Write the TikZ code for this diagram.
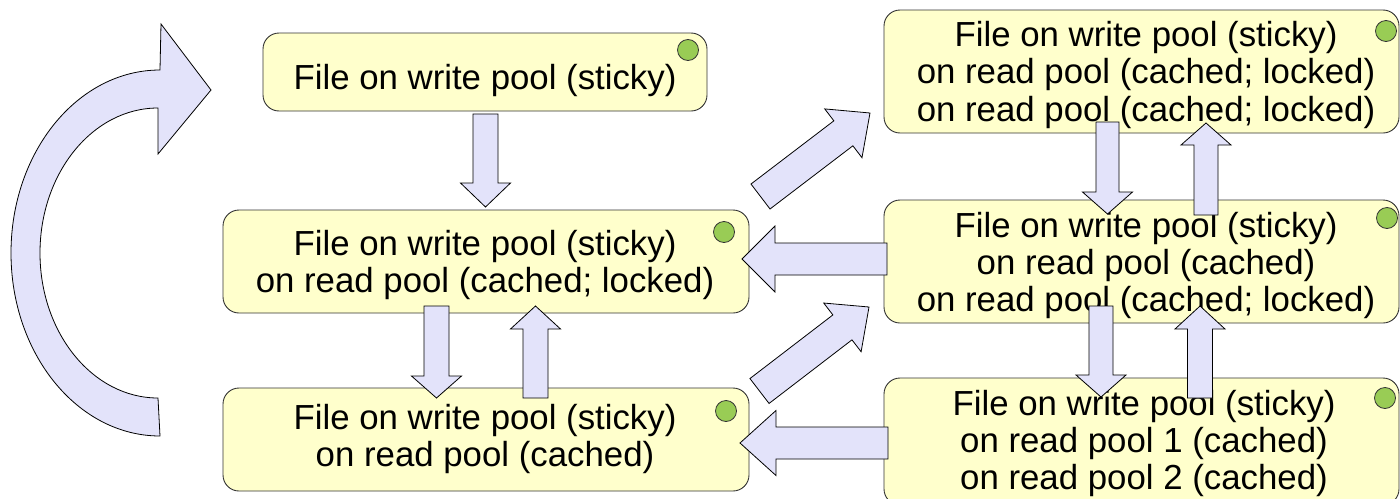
\documentclass[tikz,border=0pt]{standalone}
\usepackage{fontspec}
\setmainfont{Liberation Sans}
\usetikzlibrary{calc}
\definecolor{boxfill}{RGB}{255,255,204}
\definecolor{arrfill}{RGB}{227,227,250}
\definecolor{dotfill}{RGB}{153,204,85}
\newcommand{\blockarrow}[5]{% tail, tip, half shaft, half head, head length
  \path ($(#2)!#5!(#1)$) coordinate (ba-h);
  \draw[arrowshape] ($(#1)!#3!90:(#2)$) -- ($(ba-h)!#3!90:(#2)$) -- ($(ba-h)!#4!90:(#2)$) -- (#2)
     -- ($(ba-h)!#4!-90:(#2)$) -- ($(ba-h)!#3!-90:(#2)$) -- ($(#1)!#3!-90:(#2)$) -- cycle;
}
\tikzset{
  box/.style={draw=black!80, fill=boxfill, rounded corners=16pt, line width=0.9pt, inner sep=0pt},
  lbl/.style={align=center, inner sep=0pt, font=\fontsize{34.8pt}{37pt}\selectfont},
  dot/.style={circle, draw=black!80, fill=dotfill, line width=0.8pt, minimum size=21pt, inner sep=0pt},
  arrowshape/.style={draw=black, fill=arrfill, line width=0.8pt, line join=miter}
}
\begin{document}
\begin{tikzpicture}[x=1pt,y=1pt]
\useasboundingbox (0,0) rectangle (1400,-498);
% boxes
\node[box, minimum width=444pt, minimum height=78pt] (A) at (485,-72) {};
\node[box, minimum width=526pt, minimum height=103pt] (B) at (486,-261.5) {};
\node[box, minimum width=526pt, minimum height=103pt] (C) at (486,-439.5) {};
\node[box, minimum width=515pt, minimum height=123pt] (D) at (1141.5,-71.5) {};
\node[box, minimum width=515pt, minimum height=123pt] (E) at (1141.5,-261.5) {};
\node[box, minimum width=515pt, minimum height=127pt] (F) at (1141.5,-441.5) {};
% dots
\node[dot] (dA) at (688,-50) {};
\node[dot] (dB) at (724,-232) {};
\node[dot] (dC) at (726,-411) {};
\node[dot] (dD) at (1386,-31) {};
\node[dot] (dE) at (1387,-218) {};
\node[dot] (dF) at (1385,-398) {};
% texts
\node[lbl] (tA) at (485,-81) {File on write pool (sticky)};
\node[lbl] (tB) at (485,-265) {File on write pool (sticky)\\on read pool (cached; locked)};
\node[lbl] (tC) at (485,-438.5) {File on write pool (sticky)\\on read pool (cached)};
\node[lbl] (tD) at (1146,-75) {File on write pool (sticky)\\on read pool (cached; locked)\\on read pool (cached; locked)};
\node[lbl] (tE) at (1146,-265.5) {File on write pool (sticky)\\on read pool (cached)\\on read pool (cached; locked)};
\node[lbl] (tF) at (1144,-443.5) {File on write pool (sticky)\\on read pool 1 (cached)\\on read pool 2 (cached)};
% arrow end points
\coordinate (a1s) at (485.5,-114);  \coordinate (a1e) at (485.5,-207);
\coordinate (a2s) at (436.5,-306);  \coordinate (a2e) at (436.5,-398);
\coordinate (a3s) at (535.5,-398);  \coordinate (a3e) at (535.5,-306);
\coordinate (a4s) at (887,-259);    \coordinate (a4e) at (742,-259);
\coordinate (a5s) at (888,-443);    \coordinate (a5e) at (740,-443);
\coordinate (a6s) at (760.5,-196.5);\coordinate (a6e) at (870,-113);
\coordinate (a7s) at (759.5,-391);  \coordinate (a7e) at (869,-307);
\coordinate (a8s) at (1107.5,-122); \coordinate (a8e) at (1107.5,-214);
\coordinate (a9s) at (1206,-215);   \coordinate (a9e) at (1206,-123);
\coordinate (a10s) at (1101,-306);  \coordinate (a10e) at (1101,-397);
\coordinate (a11s) at (1200,-398);  \coordinate (a11e) at (1200,-306);
% block arrows
\blockarrow{a1s}{a1e}{12.5pt}{25pt}{24pt}
\blockarrow{a2s}{a2e}{12.5pt}{25pt}{22pt}
\blockarrow{a3s}{a3e}{12.5pt}{25pt}{23pt}
\blockarrow{a4s}{a4e}{16pt}{33pt}{33pt}
\blockarrow{a5s}{a5e}{16pt}{32.5pt}{36pt}
\blockarrow{a6s}{a6e}{15.7pt}{30.7pt}{33.5pt}
\blockarrow{a7s}{a7e}{15.7pt}{30.7pt}{33.5pt}
\blockarrow{a8s}{a8e}{11.5pt}{25pt}{22pt}
\blockarrow{a9s}{a9e}{12pt}{25pt}{22pt}
\blockarrow{a10s}{a10e}{12pt}{25pt}{22pt}
\blockarrow{a11s}{a11e}{12.5pt}{25pt}{23pt}
% big curved arrow
\draw[arrowshape] (160,-436) arc[start angle=270, end angle=90, x radius=149, y radius=183]
  -- (161,-24) -- (211,-90) -- (158,-154) -- (158,-108)
  arc[start angle=90, end angle=270, x radius=118, y radius=145] -- cycle;
\end{tikzpicture}
\end{document}
